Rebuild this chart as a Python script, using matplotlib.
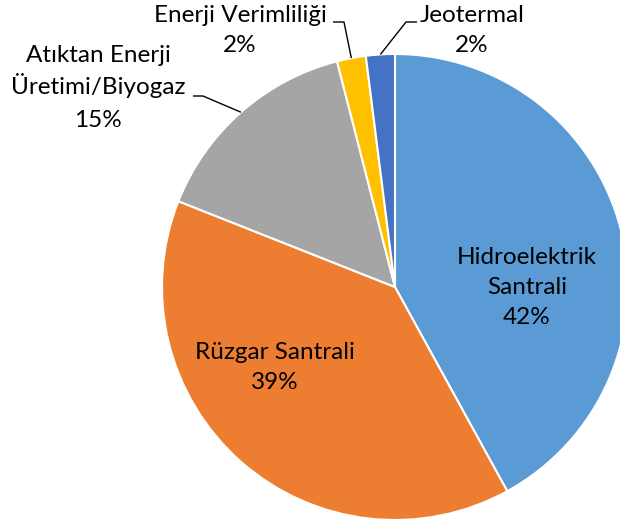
import matplotlib
matplotlib.use("Agg")
import matplotlib.pyplot as plt
import numpy as np

categories = ["Hidroelektrik\nSantrali", "Rüzgar Santrali", "Atıktan Enerji\nÜretimi/Biyogaz",
              "Enerji Verimliliği", "Jeotermal"]
values = [42, 39, 15, 2, 2]
colors = ["#5B9BD5", "#ED7D31", "#A5A5A5", "#FFC000", "#4472C4"]

W, H = 620, 521
fig = plt.figure(figsize=(W / 100, H / 100), dpi=100)
ax = fig.add_axes([0, 0, 1, 1])

cx, cy, R = 395, H - 287, 233
wedges, _ = ax.pie(values, colors=colors, startangle=90, counterclock=False,
                   center=(cx, cy), radius=R, frame=True,
                   wedgeprops=dict(edgecolor="white", linewidth=1.5))
ax.set_xlim(0, W)
ax.set_ylim(0, H)
ax.set_aspect("equal")
ax.axis("off")

total = sum(values)
pcts = [f"{round(v / total * 100)}%" for v in values]
font = dict(family=["Lato", "DejaVu Sans"], fontsize=17.5, color="#000000")

def mid_angle(w):
    return np.deg2rad((w.theta1 + w.theta2) / 2)

def block(x, y_top_baseline, lines, step):
    # draw lines with uniform baseline spacing (pixel units, y downward)
    for k, line in enumerate(lines):
        ax.text(x, H - (y_top_baseline + k * step), line, ha="center",
                va="baseline", **font)

# inside labels
inside = {0: (527, 264), 1: (275, 359)}
for i, (x, yb) in inside.items():
    block(x, yb, categories[i].split("\n") + [pcts[i]], 30)

# outside labels with leader lines
outside = {
    2: dict(text=(98, 62), step=32.5, elbow=(203, 96), end=(193, 96)),
    3: dict(text=(240, 22), step=30, elbow=(344, 22), end=(333, 22)),
    4: dict(text=(472, 22), step=30, elbow=(406, 22), end=(417, 22)),
}
for i, d in outside.items():
    a = mid_angle(wedges[i])
    px, py = cx + R * np.cos(a), cy + R * np.sin(a)
    ax.plot([px, d["elbow"][0], d["end"][0]], [py, H - d["elbow"][1], H - d["end"][1]],
            color="#000000", lw=1.0, solid_capstyle="butt", clip_on=False)
    block(d["text"][0], d["text"][1], categories[i].split("\n") + [pcts[i]], d["step"])

fig.savefig("out.png", dpi=100, facecolor="white")
